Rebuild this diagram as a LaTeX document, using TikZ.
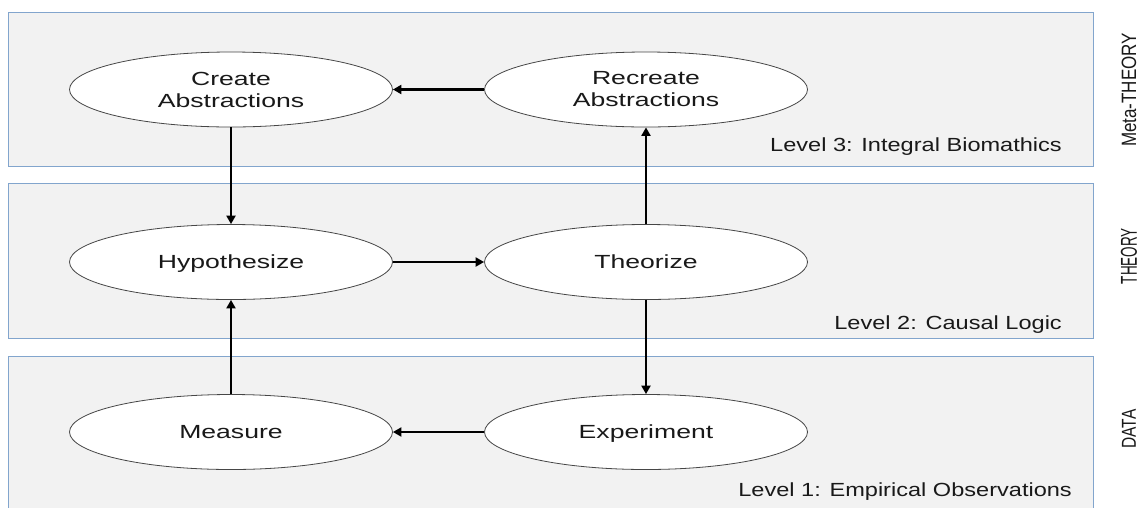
\documentclass[tikz,border=0pt]{standalone}
\usepackage{fontspec}
\setmainfont{Liberation Sans}
\newfontfamily\ellfont[FakeStretch=1.4]{Liberation Sans}
\newfontfamily\levfont[FakeStretch=1.24]{Liberation Sans}
\usetikzlibrary{shapes.geometric,arrows.meta}
\definecolor{panelfill}{RGB}{242,242,242}
\definecolor{panelline}{RGB}{130,165,205}
\definecolor{ellline}{RGB}{70,70,70}
\definecolor{txt}{RGB}{25,25,25}
\begin{document}
\begin{tikzpicture}[x=1pt,y=-1pt,
  panel/.style={draw=panelline, line width=0.9pt, fill=panelfill},
  ell/.style={ellipse, draw=ellline, line width=0.8pt, fill=white,
    minimum width=323pt, minimum height=75pt, inner sep=0pt,
    font=\ellfont\fontsize{19}{22}\selectfont, align=center, text=txt},
  oneline/.style={text height=13.7pt, text depth=0pt},
  arr/.style={line width=2.5pt, -{Triangle[length=8.5pt,width=9pt]}},
  levlabel/.style={anchor=base east, inner sep=0pt, text=txt,
    font=\levfont\fontsize{19}{22}\selectfont},
  sidelabel/.style={rotate=90, inner sep=0pt, text=txt}
]
\useasboundingbox (0,0) rectangle (1143,507);
\clip (0,0) rectangle (1143,507);
% panels
\draw[panel] (8,12) rectangle (1093,166);
\draw[panel] (8,183) rectangle (1093,338);
\draw[panel] (8,356) rectangle (1093,520);
% ellipses
\node[ell] (create) at (231,89.5) {Create\\Abstractions};
\node[ell] (recreate) at (646,89.5) {Recreate\\Abstractions};
\node[ell, oneline] (hyp) at (231,262) {Hypothesize};
\node[ell, oneline] (theo) at (646,262) {Theorize};
\node[ell, oneline] (meas) at (231,432) {Measure};
\node[ell, oneline] (exp) at (646,432) {Experiment};
% arrows
\draw[arr] (recreate.west) -- (create.east);
\draw[arr] (create.south) -- (hyp.north);
\draw[arr] (hyp.east) -- (theo.west);
\draw[arr] (theo.north) -- (recreate.south);
\draw[arr] (theo.south) -- (exp.north);
\draw[arr] (exp.west) -- (meas.east);
\draw[arr] (meas.north) -- (hyp.south);
% level labels
\node[levlabel] (l3) at (1062,151.5) {Level 3: Integral Biomathics};
\node[levlabel] (l2) at (1062,329.5) {Level 2: Causal Logic};
\node[levlabel] (l1) at (1072,496.5) {Level 1: Empirical Observations};
% side labels
\node[sidelabel, font=\fontsize{17}{20}\selectfont] (meta) at (1129,90) {\scalebox{1}[1.22]{Meta-THEORY}};
\node[sidelabel, font=\fontsize{13.5}{16}\selectfont] (theory) at (1129,256) {\scalebox{1}[1.7]{THEORY}};
\node[sidelabel, font=\fontsize{15.5}{18}\selectfont] (data) at (1129,429) {\scalebox{1}[1.3]{DATA}};
\end{tikzpicture}
\end{document}
